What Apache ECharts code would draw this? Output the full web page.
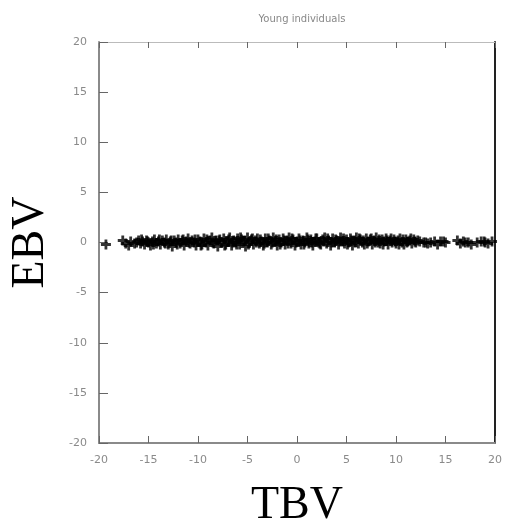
<!DOCTYPE html>
<html>
<head>
<meta charset="utf-8">
<script src="https://cdn.jsdelivr.net/npm/echarts@6/dist/echarts.min.js"></script>
<style>
  html, body { margin: 0; padding: 0; background: #fff; }
  #chart { width: 506px; height: 528px; }
</style>
</head>
<body>
<div id="chart"></div>
<script>
const xTicks = [-20, -15, -10, -5, 0, 5, 10, 15, 20];
const yTicks = [-20, -15, -10, -5, 0, 5, 10, 15, 20];

// main band of points
const bandA = [
  [-19.3,-0.2],[-17.6,0.2],[-17.3,-0.1],[-17.0,-0.3],[-16.8,0.1],
  [-16.2,0.0],[-16.0,0.2],[-15.8,-0.1],[-15.6,0.1],[-15.4,-0.2],[-15.2,0.2],[-15.0,0.0],[-14.8,-0.3],
  [-14.6,0.1],[-14.4,0.3],[-14.2,-0.1],[-14.0,0.1],[-13.8,-0.2],[-13.6,0.2],[-13.4,0.0],[-13.2,0.3],
  [-13.0,-0.2],[-12.8,0.1],[-12.6,-0.4],[-12.4,0.2],[-12.2,0.0],[-12.0,0.3],[-11.8,-0.1],[-11.6,0.2],
  [-11.4,-0.3],[-11.2,0.1],[-11.0,0.4],[-10.8,-0.1],[-10.6,0.2],[-10.4,0.0],[-10.2,-0.3],[-10.0,0.3],
  [-9.8,0.1],[-9.6,-0.2],[-9.4,0.4],[-9.2,0.0],[-9.0,-0.3],[-8.8,0.2],[-8.6,0.5],[-8.4,-0.1],
  [-8.2,0.2],[-8.0,-0.4],[-7.8,0.3],[-7.6,0.0],[-7.4,0.4],[-7.2,-0.2],[-7.0,0.1],[-6.8,0.5],
  [-6.6,-0.3],[-6.4,0.2],[-6.2,0.0],[-6.0,0.4],[-5.8,-0.2],[-5.6,0.3],[-5.4,0.1],[-5.2,-0.4],
  [-5.0,0.5],[-4.8,0.0],[-4.6,0.3],[-4.4,-0.2],[-4.2,0.2],[-4.0,0.4],[-3.8,-0.1],[-3.6,0.1],
  [-3.4,-0.3],[-3.2,0.4],[-3.0,0.0],[-2.8,0.2],[-2.6,-0.2],[-2.4,0.5],[-2.2,0.1],[-2.0,-0.3],
  [-1.8,0.3],[-1.6,0.0],[-1.4,0.4],[-1.2,-0.2],[-1.0,0.2],[-0.8,0.5],[-0.6,-0.1],[-0.4,0.3],
  [-0.2,-0.3],[0.0,0.1],[0.2,0.4],[0.4,-0.2],[0.6,0.2],[0.8,0.0],[1.0,0.5],[1.2,-0.1],
  [1.4,0.3],[1.6,-0.3],[1.8,0.1],[2.0,0.4],[2.2,0.0],[2.4,-0.2],[2.6,0.3],[2.8,0.5],
  [3.0,-0.1],[3.2,0.2],[3.4,-0.3],[3.6,0.4],[3.8,0.0],[4.0,0.2],[4.2,-0.2],[4.4,0.5],
  [4.6,0.1],[4.8,-0.1],[5.0,0.3],[5.2,0.0],[5.4,0.4],[5.6,-0.3],[5.8,0.2],[6.0,0.5],
  [6.2,-0.1],[6.4,0.3],[6.6,0.0],[6.8,-0.2],[7.0,0.4],[7.2,0.1],[7.4,0.3],[7.6,-0.2],
  [7.8,0.2],[8.0,0.5],[8.2,0.0],[8.4,-0.1],[8.6,0.3],[8.8,0.1],[9.0,0.4],[9.2,-0.2],
  [9.4,0.2],[9.6,0.0],[9.8,0.3],[10.0,-0.1],[10.2,0.2],[10.4,0.4],[10.6,0.0],[10.8,-0.2],
  [11.0,0.3],[11.2,0.1],[11.4,0.2],[11.6,-0.1],[11.8,0.3],[12.0,0.0],[12.2,0.2],[12.4,0.1],
  [12.8,0.0],[13.2,-0.1],[13.9,0.1],[14.2,-0.2],[14.5,0.1],[15.0,0.0],[16.2,0.2],[16.5,-0.1],
  [16.8,0.1],[17.3,0.0],[17.6,-0.2],[18.6,0.1],[19.0,0.0],[19.3,-0.1],[19.7,0.1]
];
const bandB = [
  [-16.4,-0.1],[-15.7,0.3],
  [-15.1,0.1],[-14.5,-0.2],[-13.9,0.3],[-13.3,-0.1],[-12.7,0.2],[-12.1,-0.2],[-11.5,0.3],[-10.9,0.0],
  [-10.3,0.3],[-9.7,-0.3],[-9.1,0.3],[-8.5,0.0],[-7.9,0.2],[-7.3,-0.3],[-6.9,0.3],[-6.5,0.0],
  [-6.1,-0.2],[-5.7,0.5],[-5.3,0.2],[-4.9,-0.2],[-4.5,0.4],[-4.1,0.0],[-3.7,0.3],[-3.3,-0.1],
  [-2.9,0.4],[-2.5,0.0],[-2.1,0.3],[-1.7,-0.2],[-1.3,0.2],[-0.9,-0.1],[-0.5,0.4],[-0.1,0.0],
  [0.3,0.2],[0.7,-0.2],[1.1,0.3],[1.5,0.0],[1.9,0.4],[2.3,-0.1],[2.7,0.1],[3.1,0.4],
  [3.5,0.0],[3.9,0.3],[4.3,0.1],[4.7,0.4],[5.1,-0.2],[5.5,0.2],[5.9,0.0],[6.3,0.4],
  [6.7,0.2],[7.1,-0.1],[7.5,0.4],[7.9,0.0],[8.3,0.3],[8.7,-0.2],[9.1,0.2],[9.5,0.4],
  [9.9,0.1],[10.3,-0.2],[10.7,0.3],[11.1,0.0],[11.5,0.4],[11.9,0.1],
  [13.0,0.0],[13.5,0.0],[14.8,0.1],[17.0,0.0],[18.2,0.0],[18.9,0.1]
];

const plus = 'path://M3.6,0H6.4V3.6H10V6.4H6.4V10H3.6V6.4H0V3.6H3.6Z';
const gray = '#8a8a8a';
const labelFont = { color: '#8a8a8a', fontSize: 11, fontFamily: 'DejaVu Sans' };

let chart = echarts.init(document.getElementById('chart'));
chart.setOption({
  backgroundColor: '#fff',
  animation: false,
  title: {
    text: 'Young individuals',
    left: 297, top: 9, textAlign: 'center',
    textStyle: { color: '#888', fontSize: 10, fontWeight: 'normal', fontFamily: 'DejaVu Sans' }
  },
  grid: { left: 99, top: 42, right: 11, bottom: 85, outerBoundsMode: 'none' },
  xAxis: [
    {
      type: 'value', min: -20, max: 20, interval: 5,
      name: 'TBV', nameLocation: 'middle', nameGap: 40,
      nameTextStyle: { color: '#000', fontSize: 46, fontFamily: 'Liberation Serif' },
      axisLine: { onZero: false, lineStyle: { color: gray, width: 2 } },
      axisTick: { inside: true, length: 7, lineStyle: { color: '#666' } },
      axisLabel: Object.assign({ margin: 12, formatter: v => xTicks.includes(v) ? String(v) : '' }, labelFont),
      splitLine: { show: false }
    },
    {
      type: 'value', min: -20, max: 20, interval: 5, position: 'top',
      axisLine: { onZero: false, lineStyle: { color: '#bbb', width: 1 } },
      axisTick: { inside: true, length: 6, lineStyle: { color: '#666' } },
      axisLabel: { show: false },
      splitLine: { show: false }
    }
  ],
  yAxis: [
    {
      type: 'value', min: -20, max: 20, interval: 5,
      name: 'EBV', nameLocation: 'middle', nameGap: 45, nameRotate: 90,
      nameTextStyle: { color: '#000', fontSize: 46, fontFamily: 'Liberation Serif' },
      axisLine: { onZero: false, lineStyle: { color: gray, width: 2 } },
      axisTick: { inside: true, length: 9, lineStyle: { color: '#666' } },
      axisLabel: Object.assign({ margin: 12, formatter: v => yTicks.includes(v) ? String(v) : '' }, labelFont),
      splitLine: { show: false }
    },
    {
      type: 'value', min: -20, max: 20, interval: 5, position: 'right',
      axisLine: { onZero: false, lineStyle: { color: '#222', width: 2 } },
      axisTick: { show: false },
      axisLabel: { show: false },
      splitLine: { show: false }
    }
  ],
  series: [
    {
      type: 'scatter', data: bandA,
      symbol: plus, symbolSize: 10,
      itemStyle: { color: '#000' }
    },
    {
      type: 'scatter', data: bandB,
      symbol: plus, symbolSize: 10,
      itemStyle: { color: '#000' }
    }
  ]
});
</script>
</body>
</html>
